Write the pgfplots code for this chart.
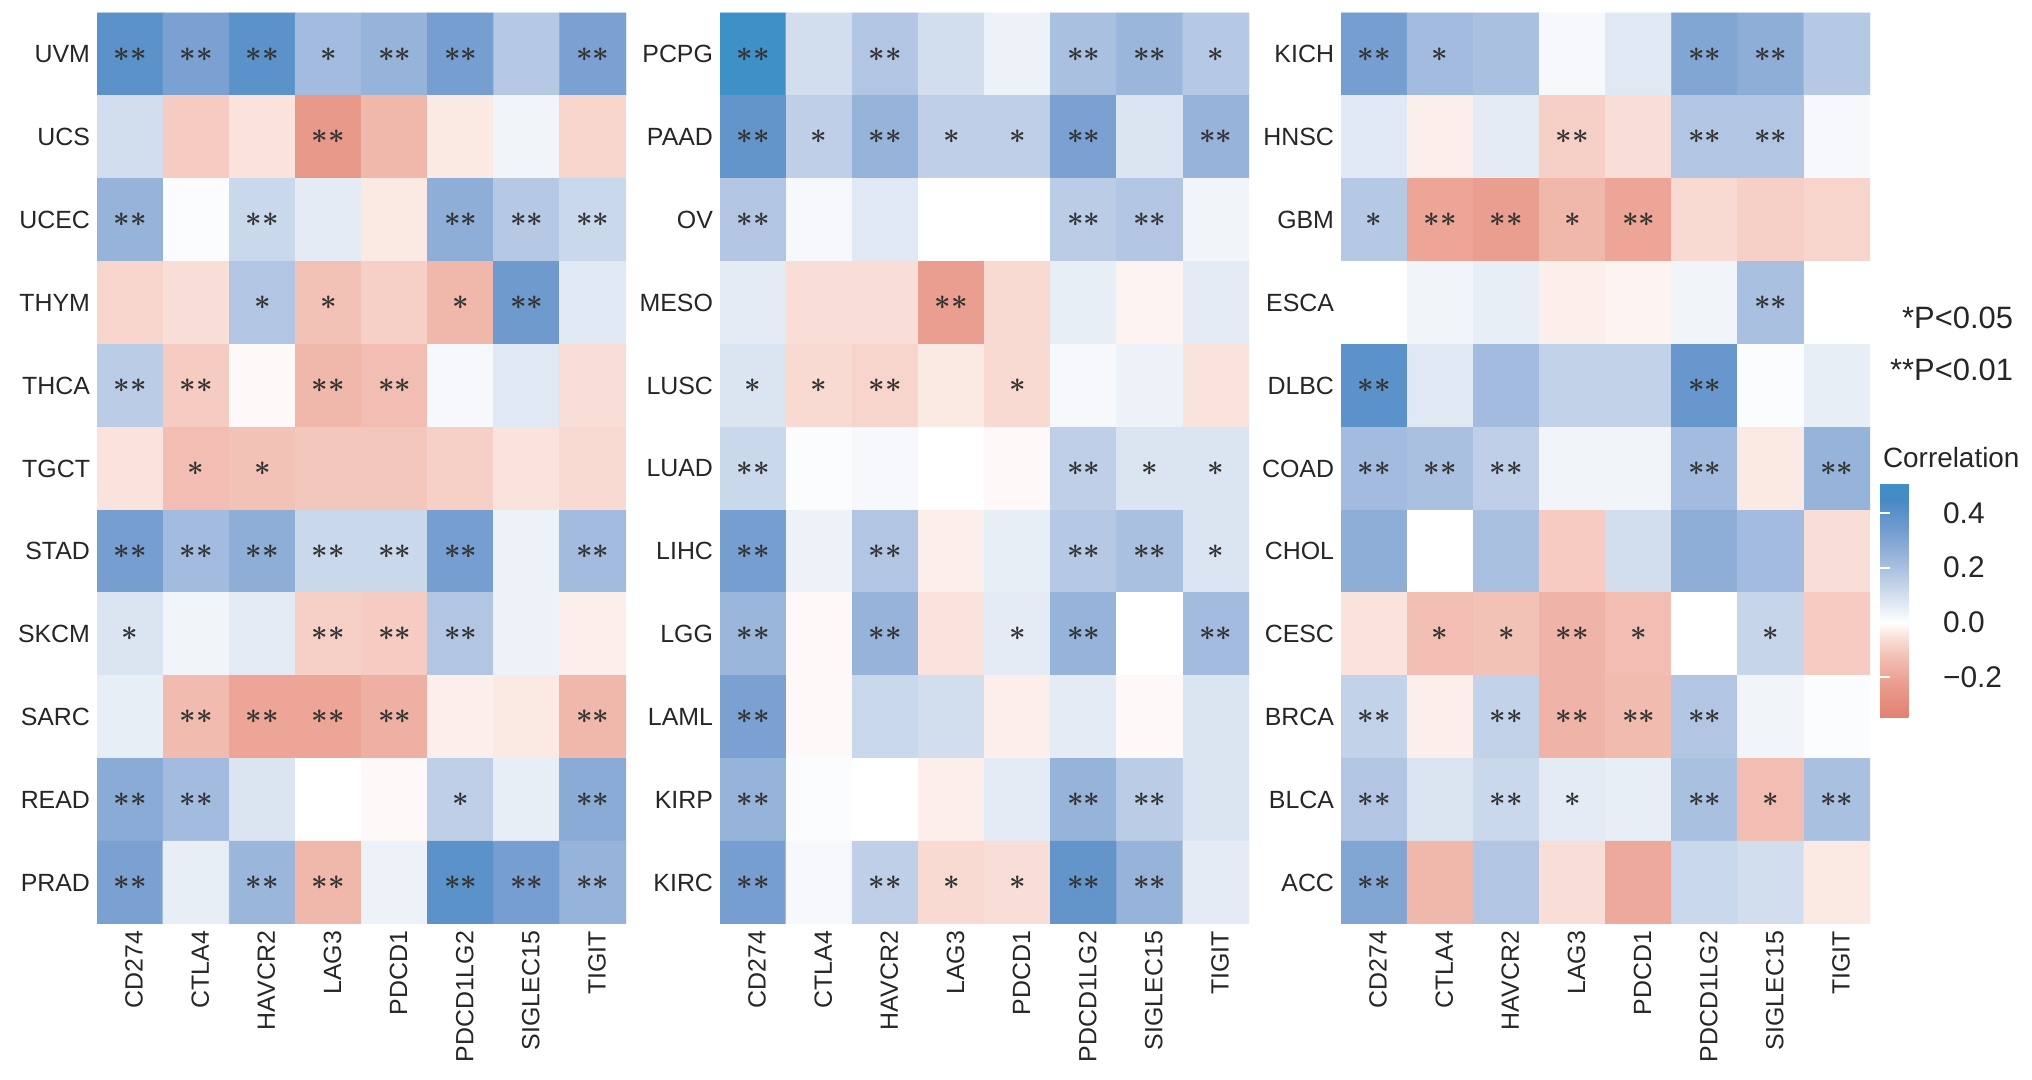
\documentclass[border=0pt]{standalone}
\usepackage{fontspec}
\setmainfont{Liberation Sans}
\usepackage{pgfplots}
\usepackage{pgfplotstable}
\pgfplotsset{compat=1.18}

% colormap: position in pt = 100*(r + 0.35)
\pgfplotsset{colormap={corr}{
  rgb255(0pt)=(226,128,112); rgb255(13pt)=(234,158,143); rgb255(23pt)=(243,194,183);
  rgb255(30pt)=(250,227,221); rgb255(35pt)=(255,255,255); rgb255(45pt)=(210,222,238);
  rgb255(55pt)=(170,192,224); rgb255(68pt)=(118,158,208); rgb255(80pt)=(72,137,196);
  rgb255(86pt)=(60,145,200)}}

\newcommand\stars[1]{\ifcase#1\relax\or$\ast$\or$\ast\ast$\fi}

% x = gene, y = row (0 = top), c = correlation, s = 0/1/2 stars
\pgfplotstableread{
x y c s
0 0 0.40 2
1 0 0.32 2
2 0 0.40 2
3 0 0.22 1
4 0 0.25 2
5 0 0.33 2
6 0 0.17 0
7 0 0.32 2
0 1 0.10 0
1 1 -0.10 0
2 1 -0.05 0
3 1 -0.24 2
4 1 -0.15 0
5 1 -0.04 0
6 1 0.03 0
7 1 -0.08 0
0 2 0.25 2
1 2 0.01 0
2 2 0.12 2
3 2 0.06 0
4 2 -0.04 0
5 2 0.27 2
6 2 0.17 2
7 2 0.12 2
0 3 -0.08 0
1 3 -0.06 0
2 3 0.18 1
3 3 -0.12 1
4 3 -0.09 0
5 3 -0.15 1
6 3 0.35 2
7 3 0.07 0
0 4 0.16 2
1 4 -0.10 2
2 4 -0.01 0
3 4 -0.15 2
4 4 -0.13 2
5 4 0.02 0
6 4 0.07 0
7 4 -0.06 0
0 5 -0.05 0
1 5 -0.13 1
2 5 -0.12 1
3 5 -0.11 0
4 5 -0.11 0
5 5 -0.09 0
6 5 -0.05 0
7 5 -0.07 0
0 6 0.33 2
1 6 0.22 2
2 6 0.27 2
3 6 0.12 2
4 6 0.12 2
5 6 0.33 2
6 6 0.04 0
7 6 0.22 2
0 7 0.08 1
1 7 0.03 0
2 7 0.06 0
3 7 -0.09 2
4 7 -0.10 2
5 7 0.18 2
6 7 0.04 0
7 7 -0.03 0
0 8 0.05 0
1 8 -0.14 2
2 8 -0.20 2
3 8 -0.20 2
4 8 -0.17 2
5 8 -0.03 0
6 8 -0.04 0
7 8 -0.15 2
0 9 0.28 2
1 9 0.22 2
2 9 0.08 0
3 9 0.00 0
4 9 -0.01 0
5 9 0.15 1
6 9 0.05 0
7 9 0.28 2
0 10 0.32 2
1 10 0.05 0
2 10 0.24 2
3 10 -0.15 2
4 10 0.04 0
5 10 0.40 2
6 10 0.33 2
7 10 0.25 2
}\tA

\pgfplotstableread{
x y c s
0 0 0.50 2
1 0 0.10 0
2 0 0.18 2
3 0 0.10 0
4 0 0.04 0
5 0 0.20 2
6 0 0.24 2
7 0 0.17 1
0 1 0.38 2
1 1 0.15 1
2 1 0.25 2
3 1 0.15 1
4 1 0.15 1
5 1 0.32 2
6 1 0.08 0
7 1 0.25 2
0 2 0.18 2
1 2 0.02 0
2 2 0.07 0
3 2 0.00 0
4 2 0.00 0
5 2 0.16 2
6 2 0.18 2
7 2 0.03 0
0 3 0.06 0
1 3 -0.06 0
2 3 -0.06 0
3 3 -0.22 2
4 3 -0.07 0
5 3 0.05 0
6 3 -0.02 0
7 3 0.06 0
0 4 0.08 1
1 4 -0.07 1
2 4 -0.08 2
3 4 -0.04 0
4 4 -0.07 1
5 4 0.02 0
6 4 0.04 0
7 4 -0.05 0
0 5 0.12 2
1 5 0.01 0
2 5 0.02 0
3 5 0.00 0
4 5 -0.01 0
5 5 0.15 2
6 5 0.08 1
7 5 0.08 1
0 6 0.33 2
1 6 0.04 0
2 6 0.18 2
3 6 -0.03 0
4 6 0.05 0
5 6 0.17 2
6 6 0.20 2
7 6 0.08 1
0 7 0.24 2
1 7 -0.01 0
2 7 0.25 2
3 7 -0.05 0
4 7 0.06 1
5 7 0.25 2
6 7 0.00 0
7 7 0.22 2
0 8 0.32 2
1 8 -0.01 0
2 8 0.12 0
3 8 0.10 0
4 8 -0.03 0
5 8 0.06 0
6 8 -0.01 0
7 8 0.08 0
0 9 0.25 2
1 9 0.01 0
2 9 0.00 0
3 9 -0.03 0
4 9 0.06 0
5 9 0.25 2
6 9 0.16 2
7 9 0.08 0
0 10 0.33 2
1 10 0.02 0
2 10 0.15 2
3 10 -0.07 1
4 10 -0.06 1
5 10 0.38 2
6 10 0.25 2
7 10 0.06 0
}\tB

\pgfplotstableread{
x y c s
0 0 0.33 2
1 0 0.22 1
2 0 0.20 0
3 0 0.02 0
4 0 0.07 0
5 0 0.30 2
6 0 0.27 2
7 0 0.17 0
0 1 0.07 0
1 1 -0.03 0
2 1 0.06 0
3 1 -0.09 2
4 1 -0.06 0
5 1 0.18 2
6 1 0.18 2
7 1 0.02 0
0 2 0.17 1
1 2 -0.20 2
2 2 -0.22 2
3 2 -0.15 1
4 2 -0.20 2
5 2 -0.07 0
6 2 -0.09 0
7 2 -0.08 0
0 3 0.00 0
1 3 0.03 0
2 3 0.05 0
3 3 -0.03 0
4 3 -0.02 0
5 3 0.03 0
6 3 0.20 2
7 3 0.00 0
0 4 0.40 2
1 4 0.07 0
2 4 0.22 0
3 4 0.14 0
4 4 0.14 0
5 4 0.37 2
6 4 0.01 0
7 4 0.05 0
0 5 0.22 2
1 5 0.20 2
2 5 0.15 2
3 5 0.03 0
4 5 0.03 0
5 5 0.22 2
6 5 -0.04 0
7 5 0.25 2
0 6 0.27 0
1 6 0.00 0
2 6 0.20 0
3 6 -0.10 0
4 6 0.10 0
5 6 0.27 0
6 6 0.22 0
7 6 -0.06 0
0 7 -0.05 0
1 7 -0.13 1
2 7 -0.12 1
3 7 -0.16 2
4 7 -0.13 1
5 7 0.00 0
6 7 0.13 1
7 7 -0.10 0
0 8 0.14 2
1 8 -0.03 0
2 8 0.14 2
3 8 -0.16 2
4 8 -0.14 2
5 8 0.18 2
6 8 0.03 0
7 8 0.01 0
0 9 0.18 2
1 9 0.08 0
2 9 0.12 2
3 9 0.06 1
4 9 0.05 0
5 9 0.20 2
6 9 -0.13 1
7 9 0.20 2
0 10 0.30 2
1 10 -0.15 0
2 10 0.18 0
3 10 -0.06 0
4 10 -0.19 0
5 10 0.12 0
6 10 0.10 0
7 10 -0.04 0
}\tC

\pgfplotsset{
  hm/.style={
    scale only axis, width=264.5bp, height=455.5bp, anchor=south west,
    xmin=-0.5, xmax=7.5, ymin=-0.5, ymax=10.5, y dir=reverse,
    axis line style={draw=none}, major tick length=0pt,
    xtick={0,...,7},
    xticklabels={CD274,CTLA4,HAVCR2,LAG3,PDCD1,PDCD1LG2,SIGLEC15,TIGIT},
    xticklabel style={rotate=90, anchor=east, font=\fontsize{12.5}{14}\selectfont, color=black!85, yshift=-2bp},
    ytick={0,...,10},
    yticklabel style={font=\fontsize{12.5}{14}\selectfont, color=black!85},
    colormap name=corr, point meta min=-0.35, point meta max=0.51,
  },
  hmcells/.style={matrix plot*, mesh/cols=8, mesh/rows=11, point meta=explicit},
  starlab/.style={only marks, mark=none, point meta=explicit symbolic,
    nodes near coords={\stars{\pgfplotspointmeta}}, nodes near coords align={center},
    every node near coord/.append style={font=\fontsize{14}{14}\selectfont\boldmath, text=black!80, inner sep=0pt}},
}

\begin{document}
\begin{tikzpicture}[x=1bp,y=1bp]
\useasboundingbox (0,0) rectangle (1016,540);

\begin{axis}[hm, at={(48.5bp,78bp)},
  yticklabels={UVM,UCS,UCEC,THYM,THCA,TGCT,STAD,SKCM,SARC,READ,PRAD}]
\addplot[hmcells] table[meta=c] {\tA};
\addplot[starlab] table[meta=s] {\tA};
\end{axis}

\begin{axis}[hm, at={(360bp,78bp)},
  yticklabels={PCPG,PAAD,OV,MESO,LUSC,LUAD,LIHC,LGG,LAML,KIRP,KIRC}]
\addplot[hmcells] table[meta=c] {\tB};
\addplot[starlab] table[meta=s] {\tB};
\end{axis}

\begin{axis}[hm, at={(670.5bp,78bp)},
  yticklabels={KICH,HNSC,GBM,ESCA,DLBC,COAD,CHOL,CESC,BRCA,BLCA,ACC}]
\addplot[hmcells] table[meta=c] {\tC};
\addplot[starlab] table[meta=s] {\tC};
\end{axis}

% colour key
\begin{axis}[hide axis, scale only axis, width=1bp, height=1bp,
  at={(940bp,181bp)}, anchor=south west, xmin=0, xmax=1, ymin=0, ymax=1,
  colormap name=corr, point meta min=-0.35, point meta max=0.51,
  colorbar,
  colorbar style={at={(0,0)}, anchor=south west, scale only axis,
    width=25bp, height=117.5bp,
    ytick={-0.2,0,0.2,0.4}, yticklabels={−0.2,0.0,0.2,0.4},
    ytick pos=both, yticklabel pos=right, tick align=inside,
    major tick length=5bp, tick style={white, line width=1bp},
    axis line style={draw=none},
    yticklabel style={font=\fontsize{15}{16}\selectfont, color=black!85, xshift=3bp}}]
\addplot[draw=none, mark=none, forget plot] coordinates {(0.5,0.5)};
\end{axis}

\node[anchor=west, font=\fontsize{14}{16}\selectfont, text=black!85] at (938,311) {Correlation};
\node[anchor=east, font=\fontsize{15.5}{17}\selectfont, text=black!85] at (1010,381) {*P<0.05};
\node[anchor=east, font=\fontsize{15.5}{17}\selectfont, text=black!85] at (1010,355) {**P<0.01};
\end{tikzpicture}
\end{document}
